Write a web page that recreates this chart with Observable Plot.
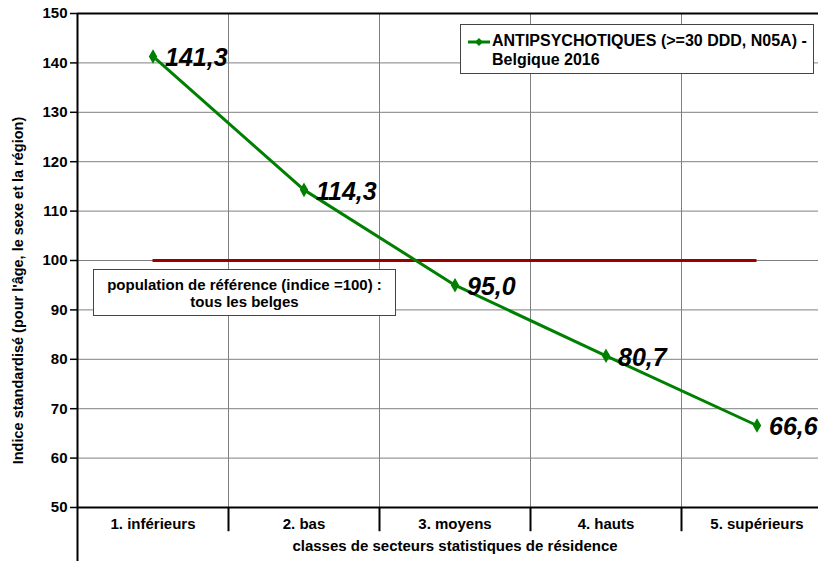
<!DOCTYPE html>
<html><head><meta charset="utf-8">
<script src="https://cdn.jsdelivr.net/npm/d3@7"></script>
<script src="https://cdn.jsdelivr.net/npm/@observablehq/plot@0.6"></script>
<style>
body{margin:0;background:#fff;font-family:"Liberation Sans",Arial,sans-serif;}
#wrap{position:relative;width:818px;height:561px;overflow:hidden;background:#fff;}
#wrap svg.plot{position:absolute;left:0;top:0;max-width:none !important;}
.box{position:absolute;background:#fff;border:1px solid #444;font-weight:bold;color:#000;box-sizing:border-box;}
</style></head><body><div id="wrap"></div>
<script>
const categories = ["1. inférieurs", "2. bas", "3. moyens", "4. hauts", "5. supérieurs"];
const values = [141.3, 114.3, 95.0, 80.7, 66.6];
const ciLow = [140.3, 113.6, 94.3, 80.2, 66.1];
const ciHigh = [142.3, 115.0, 95.7, 81.2, 67.1];
const referenceValue = 100;
const yTicks = [50, 60, 70, 80, 90, 100, 110, 120, 130, 140, 150];
const seriesLine1 = "ANTIPSYCHOTIQUES (>=30 DDD, N05A) -";
const seriesLine2 = "Belgique 2016";
const refLine1 = "population de référence (indice =100) :";
const refLine2 = "tous les belges";
const yTitle = "Indice standardisé (pour l'âge, le sexe et la région)";
const xTitle = "classes de secteurs statistiques de résidence";

const data = categories.map((c, i) => ({cat: c, idx: i + 1, v: values[i], lo: ciLow[i], hi: ciHigh[i]}));
const fmt = v => d3.format(".1f")(v).replace(".", ",");
const innerBounds = d3.range(1.5, categories.length, 1);
const allBounds = d3.range(1.5, categories.length + 1, 1);
const green = "#008000";

const chart = Plot.plot({
  width: 832, height: 561,
  marginLeft: 77, marginRight: 0, marginTop: 13, marginBottom: 54,
  style: {fontFamily: "'Liberation Sans', Arial, sans-serif", fontWeight: "bold", color: "#000", background: "transparent", maxWidth: "none"},
  x: {type: "linear", domain: [0.5, categories.length + 0.5]},
  y: {domain: [50, 150]},
  marks: [
    Plot.ruleY(yTicks.filter(t => t > 50 && t < 150), {stroke: "#808080", strokeWidth: 1}),
    Plot.ruleX(innerBounds, {y1: 50, y2: 150, stroke: "#808080", strokeWidth: 1}),
    Plot.ruleX(allBounds, {y1: 45.1, y2: 50, stroke: "#000", strokeWidth: 2}),
    Plot.ruleY([150], {stroke: "#000", strokeWidth: 2}),
    Plot.ruleY([50], {stroke: "#000", strokeWidth: 2}),
    Plot.ruleX([0.5], {y1: 38, y2: 150, stroke: "#000", strokeWidth: 2}),
    Plot.axisY({ticks: yTicks, tickSize: 7, tickPadding: 3, fontSize: 15, label: null, fontWeight: "bold", strokeWidth: 1.5}),
    Plot.axisX({ticks: data.map(d => d.idx), tickFormat: i => categories[i - 1], tickSize: 0, tickPadding: 11, fontSize: 15, label: null, fontWeight: "bold"}),
    Plot.text([xTitle], {frameAnchor: "bottom", dy: 43, fontSize: 15, fontWeight: "bold"}),
    Plot.text([yTitle], {frameAnchor: "left", textAnchor: "middle", dx: -59, dy: 30, rotate: -90, fontSize: 14.5, fontWeight: "bold"}),
    Plot.ruleY([referenceValue], {x1: 1, x2: categories.length, stroke: "#990000", strokeWidth: 3}),
    Plot.line(data, {x: "idx", y: "v", stroke: green, strokeWidth: 3}),
    Plot.ruleX(data, {x: "idx", y1: "lo", y2: "hi", stroke: green, strokeWidth: 2}),
    Plot.dot(data, {x: "idx", y: "v", symbol: "diamond", r: 3.5, fill: green, stroke: green}),
    Plot.text(data, {x: "idx", y: "v", text: d => fmt(d.v), textAnchor: "start", dx: 12, dy: 2, fontSize: 25, fontWeight: "bold", fontStyle: "italic", fill: "#000"})
  ]
});
const wrap = document.getElementById("wrap");
wrap.appendChild(chart);

const legend = document.createElement("div");
legend.className = "box";
legend.style.cssText = "left:460px;top:24px;width:354px;height:50px;padding:6px 0 0 31px;font-size:16px;line-height:19px;";
legend.innerHTML = `<svg width="24" height="10" style="position:absolute;left:7px;top:12px"><line x1="0" y1="5" x2="22" y2="5" stroke="${green}" stroke-width="3"/><path d="M11,1 L15,5 L11,9 L7,5 Z" fill="${green}"/></svg><div style="white-space:nowrap">${seriesLine1}</div><div>${seriesLine2}</div>`;
wrap.appendChild(legend);

const ref = document.createElement("div");
ref.className = "box";
ref.style.cssText = "left:93px;top:269px;width:303px;height:47px;text-align:center;padding-top:6px;font-size:15px;line-height:17px;";
ref.innerHTML = `<div style="white-space:nowrap">${refLine1}</div><div>${refLine2}</div>`;
wrap.appendChild(ref);
</script></body></html>
